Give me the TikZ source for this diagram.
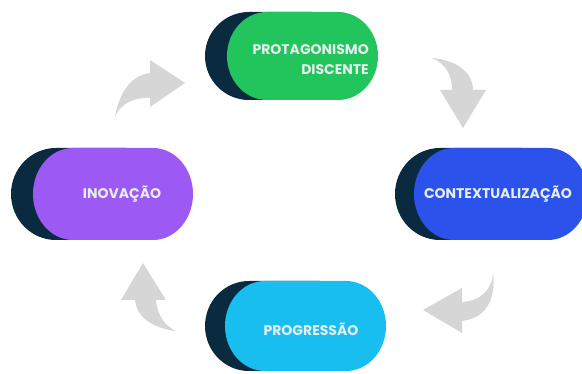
\documentclass[tikz,border=0pt]{standalone}
\usepackage{fontspec}
\setmainfont{Poppins}
\definecolor{darkpill}{RGB}{10,42,64}
\definecolor{pgreen}{RGB}{34,196,92}
\definecolor{pblue}{RGB}{43,82,235}
\definecolor{ppurple}{RGB}{157,89,244}
\definecolor{pcyan}{RGB}{24,190,240}
\definecolor{arrowgrey}{RGB}{214,214,214}
\definecolor{labeltext}{RGB}{230,238,240}
% pill: x1, x2, yc, ry, rx
\newcommand\pillpath[5]{(#1+#5,#3-#4) -- (#2-#5,#3-#4) arc[start angle=-90,end angle=90,x radius=#5,y radius=#4] -- (#1+#5,#3+#4) arc[start angle=90,end angle=270,x radius=#5,y radius=#4] -- cycle}
\tikzset{
  lbl/.style={text=labeltext,font=\fontsize{14}{20}\selectfont\bfseries,inner sep=0pt},
  blockarrow/.style={fill=arrowgrey,draw=none}
}
\begin{document}
\begin{tikzpicture}[x=1pt,y=-1pt]
\useasboundingbox[fill=white] (0,0) rectangle (582,374);
\begin{scope}
\clip (0,0) rectangle (582,374);
% top pill
\fill[darkpill] \pillpath{205}{356}{56}{44}{44};
\fill[pgreen] \pillpath{227}{378}{56}{44}{40};
% right pill
\fill[darkpill] \pillpath{395}{566}{194}{46}{45};
\fill[pblue] \pillpath{414}{588}{194}{46}{40};
% left pill
\fill[darkpill] \pillpath{11}{171}{194}{46}{45};
\fill[ppurple] \pillpath{33}{193}{194}{46}{40};
% bottom pill
\fill[darkpill] \pillpath{205}{364}{326}{45}{44};
\fill[pcyan] \pillpath{225}{386}{326}{45}{40};
\end{scope}
% labels
\node[lbl,anchor=east,align=right] (protag) at (369,60) {PROTAGONISMO\\DISCENTE};
\node[lbl] (context) at (498,194) {CONTEXTUALIZAÇÃO};
\node[lbl] (inov) at (122,194) {INOVAÇÃO};
\node[lbl] (progr) at (311,329) {PROGRESSÃO};
% block arrows
\fill[blockarrow] (115,117) .. controls (120,88) and (134,75) .. (150,73) -- (150,60) -- (185,83) -- (150,107) -- (150,98) .. controls (134,97) and (120,104) .. cycle;
\fill[blockarrow] (432,58) .. controls (456,60) and (473,72) .. (473,90) -- (486,90) -- (463,128) -- (440,90) -- (452,90) .. controls (452,75) and (446,64) .. cycle;
\fill[blockarrow] (493,273) .. controls (492,290) and (480,301) .. (462,302) -- (462,288) -- (423,310) -- (462,333) -- (462,321) .. controls (486,318) and (496,300) .. cycle;
\fill[blockarrow] (176,331) .. controls (150,328) and (136,315) .. (135,300) -- (121,300) -- (143,263) -- (166,300) -- (156,300) .. controls (157,315) and (165,326) .. cycle;
\end{tikzpicture}
\end{document}
